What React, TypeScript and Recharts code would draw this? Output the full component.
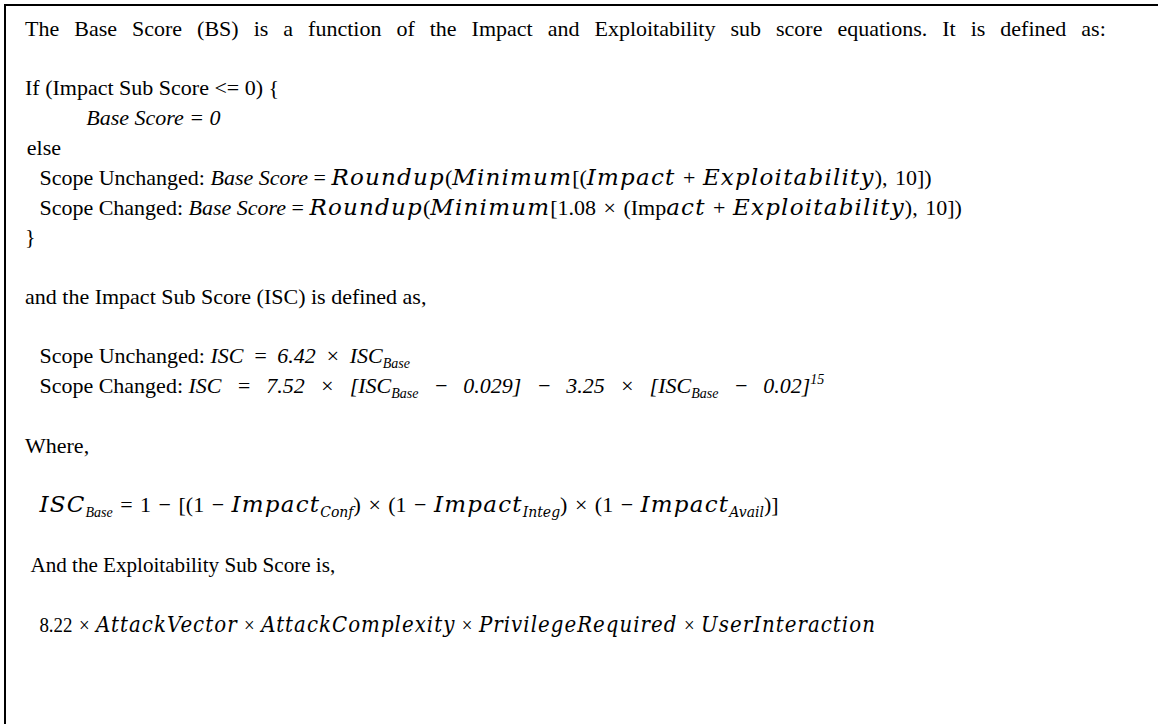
import { ScatterChart, Scatter, XAxis, YAxis } from "recharts";

// each segment: [kind, text]
// kind: r = roman, i = italic, m = math italic, u = math upright; suffix _ = subscript, ^ = superscript
type Seg = [string, string];

const line1: Seg[] = [["r", "The Base Score (BS) is a function of the Impact and Exploitability sub score equations. It is defined as:"]];
const line2: Seg[] = [["r", "If (Impact Sub Score <= 0) {"]];
const line3: Seg[] = [["i", "Base Score = 0"]];
const line4: Seg[] = [["r", "else"]];
const line5: Seg[] = [
  ["r", "Scope Unchanged: "], ["i", "Base Score"], ["r", " = "], ["m", "Roundup"], ["u", "("],
  ["m", "Minimum"], ["u", "[("], ["m", "Impact"], ["u", " + "], ["m", "Exploitability"], ["u", "), 10])"],
];
const line6: Seg[] = [
  ["r", "Scope Changed: "], ["i", "Base Score"], ["r", " = "], ["m", "Roundup"], ["u", "("],
  ["m", "Minimum"], ["u", "[1.08 × (Imp"], ["m", "act"], ["u", " + "], ["m", "Exploitability"], ["u", "), 10])"],
];
const line7: Seg[] = [["r", "}"]];
const line8: Seg[] = [["r", "and the Impact Sub Score (ISC) is defined as,"]];
const line9: Seg[] = [["r", "Scope Unchanged: "], ["i", "ISC = 6.42 × ISC"], ["i_", "Base"]];
const line10: Seg[] = [
  ["r", "Scope Changed: "], ["i", "ISC = 7.52 × [ISC"], ["i_", "Base"], ["i", " − 0.029] − 3.25 × [ISC"],
  ["i_", "Base"], ["i", " − 0.02]"], ["i^", "15"],
];
const line11: Seg[] = [["r", "Where,"]];
const line12: Seg[] = [
  ["m", "ISC"], ["i_", "Base"], ["u", " = 1 − [(1 − "], ["m", "Impact"], ["m_", "Conf"], ["u", ") × (1 − "],
  ["m", "Impact"], ["m_", "Integ"], ["u", ") × (1 − "], ["m", "Impact"], ["m_", "Avail"], ["u", ")]"],
];
const line13: Seg[] = [["r", "And the Exploitability Sub Score is,"]];
const line14: Seg[] = [
  ["u", "8.22 × "], ["m", "AttackVector"], ["u", " × "], ["m", "AttackComplexity"], ["u", " × "],
  ["m", "PrivilegeRequired"], ["u", " × "], ["m", "UserInteraction"],
];

const lines = [line1, line2, line3, line4, line5, line6, line7, line8, line9, line10, line11, line12, line13, line14];
// text row of each line (blank rows skipped) and indent in character widths
const rows = [0, 2, 3, 4, 5, 6, 7, 9, 11, 12, 14, 16, 18, 20];
const indents = [0, 0, 6.8, 0.2, 1.6, 1.6, 0, 0, 1.6, 1.6, 0, 1.6, 0.6, 1.6];

const data = lines.map((segs, i) => ({ x: indents[i], y: rows[i], idx: i, segs }));

const SERIF = '"Liberation Serif", "Times New Roman", serif';
const MATH = '"DejaVu Serif", serif';
const FS = 22;
const MATH_FS = 23;
// first line is justified in the source; the last two are squeezed
const JUSTIFY: Record<number, number> = { 0: 9.5 };
const ITALIC_GAP: Record<number, number> = { 8: 4, 9: 9.5 };
const STRETCH: Record<number, number> = { 12: 0.96, 13: 0.86 };

const TextLine = (props: any) => {
  const { cx, cy, payload } = props;
  const sx = STRETCH[payload.idx] ?? 1;
  let shift = 0;
  return (
    <text
      x={0}
      y={0}
      transform={`translate(${cx},${cy}) scale(${sx},1)`}
      fill="#000"
      style={{ whiteSpace: "pre" }}
    >
      {payload.segs.map(([kind, txt]: Seg, i: number) => {
        const base = kind[0];
        const pos = kind[1];
        const math = base === "m";
        let size = math ? MATH_FS : FS;
        let want = 0;
        if (pos === "_") {
          size = Math.round(size * 0.62);
          want = 5;
        } else if (pos === "^") {
          size = Math.round(size * 0.62);
          want = -9;
        }
        const dy = want - shift;
        shift = want;
        let wordSpacing = JUSTIFY[payload.idx] ?? 0;
        if (base === "i" && !pos) wordSpacing = ITALIC_GAP[payload.idx] ?? 0;
        if (base === "u") wordSpacing = 2;
        return (
          <tspan
            key={i}
            dy={dy}
            fontFamily={math ? MATH : SERIF}
            fontStyle={base === "i" || base === "m" ? "italic" : "normal"}
            fontSize={size}
            letterSpacing={math && !pos ? 1.2 : 0}
            wordSpacing={wordSpacing}
          >
            {txt}
          </tspan>
        );
      })}
    </text>
  );
};

export default function App() {
  return (
    <div
      style={{
        position: "absolute",
        left: 0,
        top: 0,
        width: 1158,
        height: 724,
        background: "#fff",
        overflow: "hidden",
      }}
    >
      <div
        style={{
          position: "absolute",
          left: 4,
          top: 4,
          width: 1160,
          height: 730,
          borderTop: "2.5px solid #000",
          borderLeft: "2.5px solid #000",
        }}
      />
      <ScatterChart width={1158} height={724} margin={{ top: 0, right: 0, bottom: 0, left: 0 }}>
        <XAxis type="number" dataKey="x" domain={[-2.78, 125.9]} hide />
        <YAxis type="number" dataKey="y" domain={[-1.2, 23.1]} reversed hide />
        <Scatter data={data} shape={TextLine} isAnimationActive={false} />
      </ScatterChart>
    </div>
  );
}
